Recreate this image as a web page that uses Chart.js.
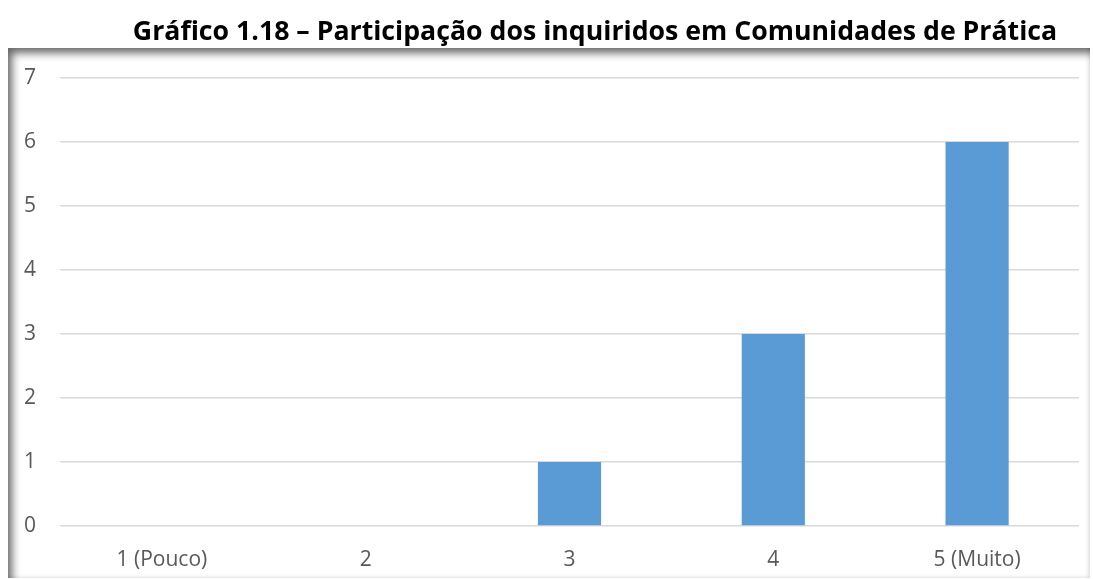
<!DOCTYPE html>
<html>
<head>
<meta charset="utf-8">
<script src="https://cdn.jsdelivr.net/npm/chart.js@4"></script>
<style>
  html, body { margin: 0; padding: 0; background: #fff; }
  #wrap { position: relative; width: 1093px; height: 579px; }
  #frame { position: absolute; left: 8px; top: 48px; width: 1082px; height: 530px;
    box-shadow: inset 7px 8px 9px -3px rgba(0,0,0,0.6), inset -3px -2px 4px -2px rgba(0,0,0,0.18); }
  canvas { position: absolute; left: 0; top: 0; }
</style>
</head>
<body>
<div id="wrap">
  <div id="frame"></div>
  <canvas id="c" width="1093" height="579"></canvas>
</div>
<script>
const categories = ['1 (Pouco)', '2', '3', '4', '5 (Muito)'];
const values = [0, 0, 1, 3, 6];
const titleText = 'Gráfico 1.18 – Participação dos inquiridos em Comunidades de Prática';

const titlePlugin = {
  id: 'customTitle',
  afterDraw(chart) {
    const ctx = chart.ctx;
    ctx.save();
    ctx.font = 'bold 26.7px "Open Sans", "Liberation Sans", sans-serif';
    ctx.fillStyle = '#000';
    ctx.textAlign = 'center';
    ctx.textBaseline = 'middle';
    ctx.fillText(titleText, 595, 32);
    ctx.restore();
  }
};

const tickFont = { family: '"Open Sans", "Liberation Sans", sans-serif', size: 21 };

new Chart(document.getElementById('c'), {
  type: 'bar',
  data: {
    labels: categories,
    datasets: [{
      data: values,
      backgroundColor: '#5B9BD5',
      borderWidth: 0,
      categoryPercentage: 1,
      barPercentage: 0.31
    }]
  },
  options: {
    responsive: false,
    animation: false,
    events: [],
    layout: { padding: { top: 78, left: 0, right: 14, bottom: 0 } },
    plugins: { legend: { display: false }, tooltip: { enabled: false }, title: { display: false } },
    scales: {
      x: {
        grid: { display: false },
        border: { display: false },
        ticks: { color: '#595959', font: tickFont, padding: 13, maxRotation: 0 },
        afterFit(scale) { scale.height = 53; }
      },
      y: {
        min: 0, max: 7,
        border: { display: false },
        grid: { color: '#D9D9D9', lineWidth: 1.5, drawTicks: false },
        ticks: { stepSize: 1, color: '#595959', font: tickFont, padding: 24 },
        afterFit(scale) { scale.width = 60; }
      }
    }
  },
  plugins: [titlePlugin]
});
</script>
</body>
</html>
